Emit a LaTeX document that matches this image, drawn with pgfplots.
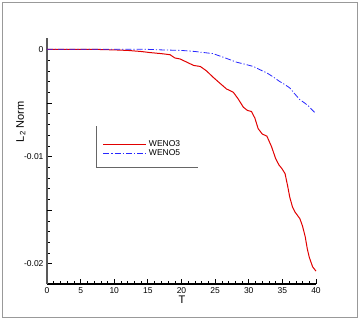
\documentclass[border=0pt]{standalone}
\usepackage{pgfplots}
\pgfplotsset{compat=1.18}
\usepackage{fontspec}
\setmainfont{Liberation Sans}
\pgfplotstableread{
T v
0 0
5 0
7 0
10 -0.00005
12 -0.0001
14 -0.0002
15.3 -0.0003
17 -0.0004
18.3 -0.0005
19 -0.0008
19.8 -0.0009
20.8 -0.0012
21.8 -0.0015
22.8 -0.0016
23.7 -0.0020
24.7 -0.0026
25.6 -0.0031
26.7 -0.0037
27.7 -0.0040
28.4 -0.0046
29.2 -0.0054
29.8 -0.0057
30.4 -0.0058
30.9 -0.0064
31.4 -0.0074
32 -0.0079
32.7 -0.0081
33.4 -0.0091
34 -0.0102
34.5 -0.0108
34.9 -0.0111
35.4 -0.0116
35.8 -0.0128
36.1 -0.0138
36.5 -0.0147
36.9 -0.0152
37.6 -0.0158
38 -0.0165
38.4 -0.0175
38.7 -0.0186
39 -0.0194
39.5 -0.0203
40 -0.0207
}\wenothree
\pgfplotstableread{
T v
0 0
15 0
17 -0.00005
20 -0.0001
22 -0.0002
24.7 -0.0004
26.5 -0.0008
28.2 -0.0012
29.5 -0.0014
30.7 -0.0016
32 -0.0020
32.7 -0.0022
33.7 -0.0026
34.6 -0.0030
35.4 -0.0033
36.1 -0.0036
36.9 -0.0042
37.6 -0.0047
38.3 -0.0050
38.9 -0.0053
39.5 -0.0057
40 -0.0060
}\wenofive
\definecolor{wred}{RGB}{225,0,0}
\definecolor{wblue}{RGB}{40,40,255}
\begin{document}
\begin{tikzpicture}
\useasboundingbox (0pt,0pt) rectangle (360pt,320pt);
\draw[gray!80, line width=0.8pt] (2pt,3pt) rectangle (357pt,318pt);
\begin{axis}[
  at={(47pt,36pt)}, anchor=south west,
  scale only axis, width=269pt, height=246pt,
  xmin=0, xmax=40, ymin=-0.0219, ymax=0.00106,
  axis x line=bottom, axis y line=left,
  axis line style={-, line width=1.2pt},
  x axis line style={black}, y axis line style={gray!70!black},
  tick align=inside,
  major tick length=5pt, minor tick length=2.5pt,
  tick style={black, line width=0.8pt},
  minor tick style={line width=0.5pt},
  xtick={0,5,...,40}, minor x tick num=4,
  ytick={-0.02,-0.01,0},
  extra y ticks={-0.015,-0.005}, extra y tick labels={},
  extra y tick style={tick style={black, line width=0.8pt}},
  minor y tick num=9,
  scaled y ticks=false,
  yticklabel style={/pgf/number format/fixed, /pgf/number format/precision=3},
  /pgf/number format/assume math mode=true,
  ticklabel style={font=\fontsize{8.5}{10}\selectfont},
  xlabel={T}, ylabel={L\textsubscript{2} Norm},
  label style={font=\fontsize{11}{12}\selectfont},
  xlabel style={at={(rel axis cs:0.502,0)}, anchor=north, yshift=-8pt},
  ylabel style={at={(rel axis cs:0,0.66)}, anchor=south, yshift=18pt},
  clip=false,
  legend style={draw=none, fill=none, at={(rel axis cs:0.2,0.6)}, anchor=north west,
    font=\fontsize{8.5}{10}\selectfont, row sep=-2pt, inner sep=2pt},
  legend cell align=left,
  legend image code/.code={\draw[#1] (0pt,0pt) -- (43pt,0pt);},
]
\addplot[wred, line width=1pt] table[x=T, y=v] {\wenothree};
\addlegendentry{WENO3}
\addplot[wblue, line width=0.8pt, dash pattern=on 6pt off 2pt on 1.2pt off 2pt] table[x=T, y=v] {\wenofive};
\addlegendentry{WENO5}
\draw[gray!80!black, line width=0.6pt] (rel axis cs:0.182,0.642) |- (rel axis cs:0.561,0.476);
\end{axis}
\end{tikzpicture}
\end{document}
